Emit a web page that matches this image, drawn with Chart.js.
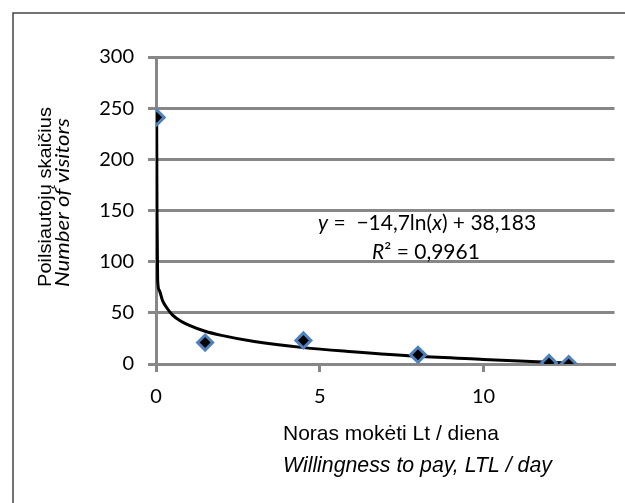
<!DOCTYPE html>
<html>
<head>
<meta charset="utf-8">
<script src="https://cdn.jsdelivr.net/npm/chart.js@4.4.1/dist/chart.umd.min.js"></script>
<style>
  html, body { margin: 0; padding: 0; background: #fff; }
  #wrap { width: 625px; height: 503px; }
</style>
</head>
<body>
<div id="wrap"><canvas id="visitorsChart" width="625" height="503"></canvas></div>
<script>
// observed points: willingness to pay (Lt/day) vs number of visitors
const wtp = [0.02, 1.5, 4.5, 8, 12, 12.6];
const visitors = [241, 21, 23, 9, 1, 0];

// log trend line
const trendX = [0.02, 0.03, 0.05, 0.1, 0.2, 0.35, 0.5, 0.75, 1, 1.5, 2, 3, 4.5, 6, 8, 10, 12, 12.6];
const trendY = [240, 150, 82, 72, 62, 54, 48, 42, 38, 32, 28, 22, 16, 12, 7.5, 4.5, 1.7, 0.9];

const xTicks = [0, 5, 10];
const yTicks = [0, 50, 100, 150, 200, 250, 300];

const GRID = '#878787';

// ── FRAME + TITLES + EQUATION ──
const decor = {
    id: 'decor',
    beforeDraw(chart) {
        const c = chart.ctx;
        c.save();
        c.strokeStyle = '#444';
        c.lineWidth = 1.5;
        c.beginPath();
        c.moveTo(13, 700);
        c.lineTo(13, 13);
        c.lineTo(700, 13);
        c.stroke();
        c.restore();
    },
    afterDraw(chart) {
        const c = chart.ctx;
        c.save();
        c.fillStyle = '#000';
        c.textBaseline = 'alphabetic';
        c.textAlign = 'left';

        // y title, two lines, rotated
        const yLines = [
            { t: 'Poilsiautojų skaičius', font: '18px "Liberation Sans", Arial', x: 51, len: 180 },
            { t: 'Number of visitors', font: 'italic 19px Lato', x: 69, len: 169 }
        ];
        yLines.forEach(l => {
            c.save();
            c.font = l.font;
            const w = c.measureText(l.t).width;
            c.translate(l.x, 287);
            c.rotate(-Math.PI / 2);
            c.scale(l.len / w, 1);
            c.fillText(l.t, 0, 0);
            c.restore();
        });

        // x title, two lines, left aligned
        c.font = '21px "Liberation Sans", Arial';
        c.fillText('Noras mokėti Lt / diena', 283, 440);
        c.font = 'italic 21.3px "Liberation Sans", Arial';
        c.fillText('Willingness to pay, LTL / day', 283, 472);

        // trend equation
        const drawParts = (parts, x, y) => {
            parts.forEach(p => {
                c.font = (p.i ? 'italic ' : '') + '21px Lato';
                c.fillText(p.s, x, y);
                x += c.measureText(p.s).width;
            });
        };
        drawParts([
            { s: 'y', i: true }, { s: ' =  \u221214,7ln(' }, { s: 'x', i: true }, { s: ') + 38,183' }
        ], 318, 230);
        drawParts([
            { s: 'R', i: true }, { s: '\u00B2 = 0,9961' }
        ], 372, 259);
        c.restore();
    }
};

const ctx = document.getElementById('visitorsChart').getContext('2d');
new Chart(ctx, {
    type: 'scatter',
    data: {
        datasets: [{
            label: 'Poilsiautojai',
            data: wtp.map((x, i) => ({ x, y: visitors[i] })),
            pointStyle: 'rectRot',
            pointRadius: 7.5,
            pointBackgroundColor: '#000',
            pointBorderColor: '#4F81BD',
            pointBorderWidth: 3,
            showLine: false,
        }, {
            label: 'Trend',
            data: trendX.map((x, i) => ({ x, y: trendY[i] })),
            showLine: true,
            borderColor: '#000',
            borderWidth: 3,
            pointRadius: 0,
            cubicInterpolationMode: 'monotone',
            fill: false,
        }]
    },
    options: {
        responsive: false,
        animation: false,
        layout: { padding: { top: 57, right: 7, left: 0, bottom: 0 } },
        plugins: { legend: { display: false }, tooltip: { enabled: false } },
        scales: {
            x: {
                type: 'linear', min: 0, max: 14,
                afterBuildTicks: s => { s.ticks = xTicks.map(v => ({ value: v })); },
                afterFit: s => { s.height = 139; },
                grid: { drawOnChartArea: false, color: GRID, lineWidth: 3, tickLength: 8 },
                border: { color: GRID, width: 3 },
                ticks: { padding: 13, color: '#000', font: { family: 'Lato', size: 20 } }
            },
            y: {
                type: 'linear', min: 0, max: 300,
                afterBuildTicks: s => { s.ticks = yTicks.map(v => ({ value: v })); },
                afterFit: s => { s.width = 156; },
                grid: { color: GRID, lineWidth: 3, tickLength: 8 },
                border: { color: GRID, width: 3 },
                ticks: { padding: 14, color: '#000', font: { family: 'Lato', size: 20 } }
            }
        }
    },
    plugins: [decor]
});
</script>
</body>
</html>
